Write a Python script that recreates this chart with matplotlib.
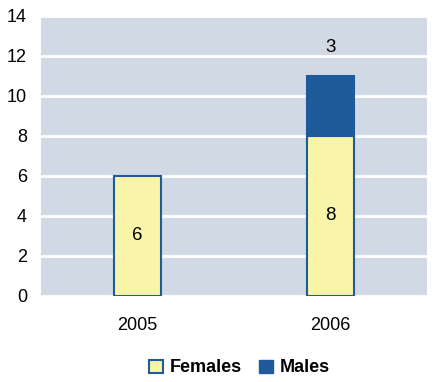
import matplotlib.pyplot as plt
from matplotlib.patches import Patch

years = ['2005', '2006']
females = [6, 8]
males = [0, 3]

plt.rcParams['font.family'] = ['Liberation Sans', 'DejaVu Sans']

fig = plt.figure(figsize=(4.33, 3.82), dpi=100)
ax = fig.add_axes([41 / 433, 1 - 296 / 382, 386 / 433, 280 / 382])
ax.set_facecolor('#d0d9e4')

yellow = '#f8f4aa'
blue = '#1f5b9b'
x = range(len(years))
ax.bar(x, females, width=0.245, color=yellow, edgecolor=blue, linewidth=1.5, zorder=3)
male_x = [i for i, v in zip(x, males) if v > 0]
male_v = [v for v in males if v > 0]
male_b = [f for f, v in zip(females, males) if v > 0]
ax.bar(male_x, male_v, bottom=male_b, width=0.245, color=blue, edgecolor=blue,
       linewidth=1.5, zorder=3)

for i, f in zip(x, females):
    ax.text(i, f / 2, str(f), ha='center', va='center', fontsize=13.5, zorder=4)
for i, f, m in zip(male_x, male_b, male_v):
    ax.text(i, f + m + 1.4, str(m), ha='center', va='center', fontsize=13.5, zorder=4)

ax.set_xlim(-0.5, 1.5)
ax.set_ylim(0, 14)
ax.set_yticks(range(0, 15, 2))
ax.set_xticks(list(x))
ax.set_xticklabels(years)
ax.tick_params(length=0, labelsize=13)
ax.tick_params(axis='y', pad=10)
ax.tick_params(axis='x', pad=15)
ax.grid(axis='y', color='white', linewidth=2, zorder=1)
for s in ax.spines.values():
    s.set_visible(False)

handles = [Patch(facecolor=yellow, edgecolor=blue, linewidth=1.5, label='Females'),
           Patch(facecolor=blue, edgecolor=blue, label='Males')]
fig.legend(handles=handles, loc='center', bbox_to_anchor=(0.553, 1 - 368 / 382), ncol=2,
           frameon=False, prop={'weight': 'bold', 'size': 13},
           handlelength=0.75, handleheight=0.75, handletextpad=0.35, columnspacing=1.0)

fig.savefig('out.png', dpi=100)
